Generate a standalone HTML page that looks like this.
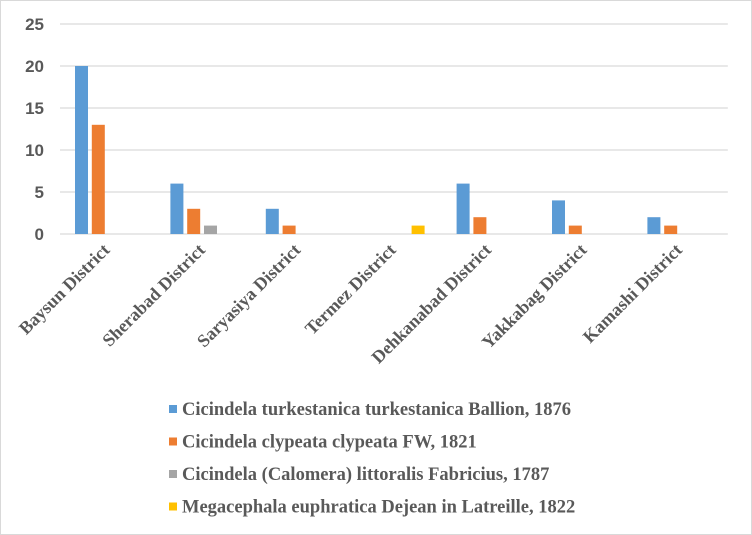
<!DOCTYPE html>
<html><head><meta charset="utf-8"><style>
body{margin:0;background:#fff}
svg{display:block}
text{font-family:"Liberation Serif",serif;font-weight:bold;fill:#595959}
</style></head><body>
<svg width="752" height="535">
<rect x="0.5" y="0.5" width="751" height="534" fill="#fff" stroke="#d9d9d9"/>
<g id="grid"></g><g id="bars"></g><g id="xl"></g><g id="legend"></g>
</svg>
<script>
const categories=["Baysun District","Sherabad District","Saryasiya District","Termez District","Dehkanabad District","Yakkabag District","Kamashi District"];
const seriesNames=["Cicindela turkestanica turkestanica Ballion, 1876","Cicindela clypeata clypeata FW, 1821","Cicindela (Calomera) littoralis Fabricius, 1787","Megacephala euphratica  Dejean in Latreille, 1822"];
const s1=[20,6,3,0,6,4,2];
const s2=[13,3,1,0,2,1,1];
const s3=[0,1,0,0,0,0,0];
const s4=[0,0,0,1,0,0,0];
const yTicks=[0,5,10,15,20,25];
const colors=["#5b9bd5","#ed7d31","#a5a5a5","#ffc000"];
const NS="http://www.w3.org/2000/svg";
const x0=60,cw=95.4,y0=234,yTop=24,yMax=25;
const y=v=>y0-(v/yMax)*(y0-yTop);
function mk(t,a,p){const e=document.createElementNS(NS,t);for(const k in a)e.setAttribute(k,a[k]);p.appendChild(e);return e;}
const grid=document.getElementById('grid');
yTicks.forEach(t=>{
 const l=mk('line',{x1:x0,x2:x0+cw*7,y1:y(t),y2:y(t),stroke:'#d9d9d9','stroke-width':1.3},grid);
 
 
 const tx=mk('text',{x:44,y:y(t)+6,'text-anchor':'end','font-size':17,style:'font-family:"Liberation Sans",sans-serif'},grid);
 tx.textContent=t;
 
 
});
const bars=document.getElementById('bars');
[s1,s2,s3,s4].forEach((s,si)=>{
 s.forEach((v,ci)=>{
  if(v<=0)return;
  const bx=x0+ci*cw+15+si*16.8;
  const r=mk('rect',{x:bx,y:y(v),width:13,height:y0-y(v),fill:colors[si]},bars);
  
  
 });
});
const xl=document.getElementById('xl');
categories.forEach((c,ci)=>{
 const cx=x0+ci*cw+cw/2+3;
 const t=mk('text',{x:cx,y:251,'text-anchor':'end','font-size':18,transform:`rotate(-45 ${cx} 251)`},xl);
 t.textContent=c;
 
 
});
const lg=document.getElementById('legend');
seriesNames.forEach((n,i)=>{
 const ly=410+i*32.5;
 const r=mk('rect',{x:169,y:ly-5,width:8,height:8,fill:colors[i]},lg);
 
 
 const t=mk('text',{x:182,y:ly+5,'font-size':18.5},lg);
 t.textContent=n;
 
 
});
</script>
</body></html>
